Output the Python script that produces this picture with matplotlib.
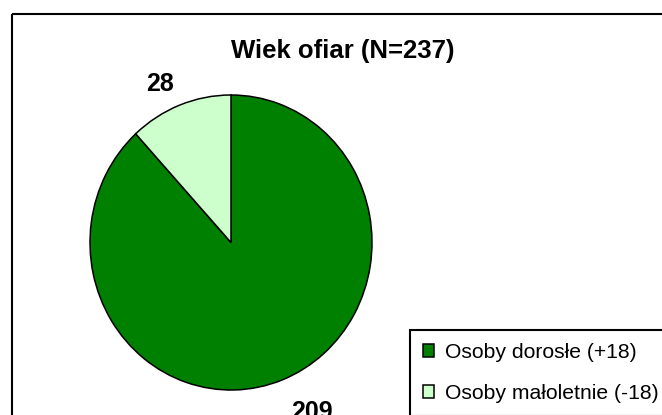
import matplotlib
matplotlib.use('Agg')
import matplotlib.pyplot as plt
from matplotlib.patches import Rectangle

plt.rcParams['font.family'] = ['Liberation Sans', 'DejaVu Sans']

title = 'Wiek ofiar (N=237)'
categories = ['Osoby dorosłe (+18)', 'Osoby małoletnie (-18)']
values = [209, 28]
colors = ['#008000', '#CCFFCC']
# where each value label sits, in pie units (radius = 1)
label_pos = [(0.574, -1.197), (-0.507, 1.027)]

fig = plt.figure(figsize=(6.62, 4.15), dpi=100)

# background axes in pixel coords, for the frame and title
bg = fig.add_axes([0, 0, 1, 1])
bg.set_xlim(0, 662)
bg.set_ylim(415, 0)
bg.axis('off')
bg.add_patch(Rectangle((11.5, 14), 700, 500, fill=False, lw=1.5,
                       ec='black', clip_on=False))
bg.text(343, 58, title, ha='center', va='baseline', fontsize=18.5,
        fontweight='bold')

# pie axes, slightly taller than wide like the original
ax = fig.add_axes([0, 0, 1, 1])
wedges, _ = ax.pie(values, colors=colors, startangle=90, counterclock=False,
                   wedgeprops=dict(edgecolor='black', linewidth=1.1))
cx, cy, rx, ry = 231, 242.5, 141, 147.5
ax.set_xlim(-cx / rx, (662 - cx) / rx)
ax.set_ylim((cy - 415) / ry, cy / ry)
ax.set_aspect('auto')
ax.axis('off')

for v, (x, y) in zip(values, label_pos):
    ax.text(x, y, str(v), ha='center', va='baseline', fontsize=18,
            fontweight='bold')

leg = fig.legend(wedges, categories, loc='upper left',
                 bbox_to_anchor=(410 / 662, 1 - 330 / 415), borderaxespad=0,
                 fancybox=False, edgecolor='black', framealpha=1,
                 fontsize=15.2, handlelength=0.55, handleheight=0.55,
                 handletextpad=0.5, borderpad=0.6, labelspacing=1.05)
leg.get_frame().set_linewidth(1.5)

fig.savefig('out.png', dpi=100)
